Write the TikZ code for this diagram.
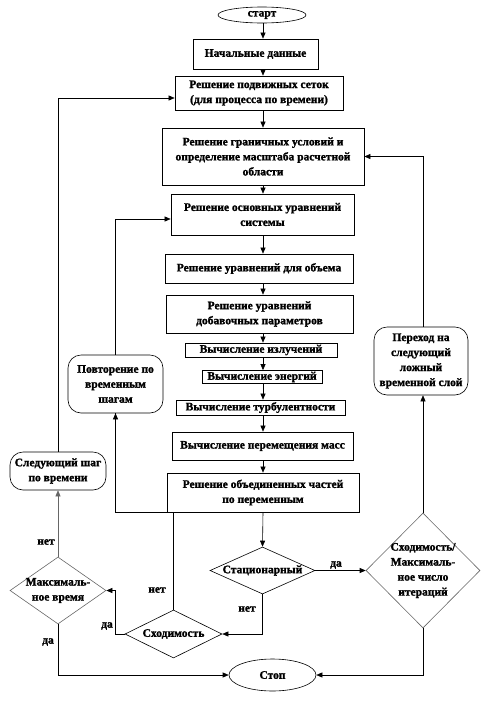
\documentclass[tikz,border=0pt]{standalone}
\usepackage{fontspec}
\setmainfont{Liberation Serif}[BoldFont={Liberation Serif Bold}, BoldFeatures={FakeBold=1.5}]
\usetikzlibrary{shapes.geometric,arrows.meta,calc}
\newcommand\myfnt{\fontsize{11.5}{15}\selectfont\bfseries}
\tikzset{
  sz/.style 2 args={minimum width=#1, minimum height=#2},
  box/.style={draw, line width=0.7pt, rectangle, inner sep=0pt, align=center, font=\myfnt},
  rbox/.style={draw, line width=0.6pt, rectangle, rounded corners=13pt, inner sep=0pt, align=center, font=\myfnt},
  oval/.style={draw, line width=0.6pt, ellipse, inner sep=0pt, font=\myfnt},
  dia/.style={draw, line width=0.6pt, diamond, inner sep=0pt},
  dtxt/.style={font=\myfnt, align=center, inner sep=0pt},
  lab/.style={font=\myfnt, inner sep=0pt},
  arr/.style={line width=0.6pt, -{Triangle[length=6pt,width=5pt]}},
  ln/.style={line width=0.6pt},
}
\begin{document}
\begin{tikzpicture}[x=1pt,y=-1pt]
\useasboundingbox (0,0) rectangle (489,702);
\coordinate (sp) at (263,0);
% main column
\node[oval, sz={88}{16}] (start) at (262,15) {старт};
\node[box, sz={125}{30}] (n1) at (255.5,54) {Начальные данные};
\node[box, sz={168}{34}] (n2) at (259,93) {Решение подвижных сеток\\(для процесса по времени)};
\node[box, sz={202}{57}] (n3) at (263,156.5) {Решение граничных условий и\\определение масштаба расчетной\\области};
\node[box, sz={183}{41}] (n4) at (262.5,214.5) {Решение основных уравнений\\системы};
\node[box, sz={188}{29}] (n5) at (259,268.5) {Решение уравнений для объема};
\node[box, sz={187}{38}] (n6) at (259.5,314) {Решение уравнений\\добавочных параметров};
\node[box, sz={152}{14}] (n7) at (261,350) {Вычисление излучений};
\node[box, sz={120}{13}] (n8) at (262,377) {Вычисление энергий};
\node[box, sz={169}{15}] (n9) at (260.5,407.5) {Вычисление турбулентности};
\node[box, sz={181}{28}] (n10) at (262.5,446) {Вычисление перемещения масс};
\node[box, sz={192}{39}] (n11) at (263,492.5) {Решение объединенных частей\\по переменным};
% side boxes
\node[rbox, sz={95}{58}] (povt) at (115.5,384) {Повторение по\\временным\\шагам};
\node[rbox, sz={96}{38}] (sled) at (58,471) {Следующий шаг\\по времени};
\node[rbox, sz={94}{68}] (perehod) at (421,361) {Переход на\\следующий\\ложный\\временной слой};
% decisions
\node[dia, draw=black!60, sz={96}{67}] (maxt) at (58,590.5) {};
\node[dtxt] (maxtt) at (maxt.center) {Максималь-\\ное время};
\node[dia, sz={97}{48}] (shod) at (173.5,634) {};
\node[dtxt] (shodt) at (shod.center) {Сходимость};
\node[dia, sz={105}{47}] (stac) at (262.5,570.5) {};
\node[dtxt] (stact) at (stac.center) {Стационарный};
\node[dia, draw=black!60, sz={114}{115}] (shodmax) at (423,570.5) {};
\node[dtxt] (shodmaxt) at (shodmax.center) {Сходимость/\\Максималь-\\ное число\\итераций};
\node[oval, sz={87}{32}] (stop) at (272.5,675) {Стоп};
% main spine arrows
\draw[arr] (start.south -| sp) -- (n1.north -| sp);
\draw[arr] (n1.south -| sp) -- (n2.north -| sp);
\draw[arr] (n2.south -| sp) -- (n3.north -| sp);
\draw[arr] (n3.south -| sp) -- (n4.north -| sp);
\draw[arr] (n4.south -| sp) -- (n5.north -| sp);
\draw[arr] (n5.south -| sp) -- (n6.north -| sp);
\draw[arr] (n6.south -| sp) -- (n7.north -| sp);
\draw[arr] (n7.south -| sp) -- (n8.north -| sp);
\draw[arr] (n8.south -| sp) -- (n9.north -| sp);
\draw[arr] (n9.south -| sp) -- (n10.north -| sp);
\draw[arr] (n10.south -| sp) -- (n11.north -| sp);
\draw[arr] (n11.south -| sp) -- (stac.north);
% decisions
\draw[arr] (stac.east) -- (shodmax.west);
\draw[arr] (stac.south) |- (shod.east);
\draw[ln] (shod.north) -- (shod.north |- n11.south) -| (povt.south);
\draw[arr] (povt.south |- n11.south) -- (povt.south);
\draw[arr] (povt.north) |- ([yshift=-4.5pt]n4.west);
\draw[arr] (shod.west) -| ($(maxt.east)+(9,0)$) -- (maxt.east);
\draw[arr, draw=black!60] (maxt.north) -- (sled.south);
\draw[arr] (sled.north) |- ([yshift=-5pt]n2.west);
\draw[arr] (maxt.south) |- (stop.west);
\draw[arr] (shodmax.south) |- (stop.east);
\draw[arr] (shodmax.north) -- (shodmax.north |- perehod.south);
\draw[arr] (shodmax.north |- perehod.north) |- (n3.east);
% labels
\node[lab] (l1) at (336,565) {да};
\node[lab] (l2) at (247,609) {нет};
\node[lab] (l3) at (157,590) {нет};
\node[lab] (l4) at (107,626) {да};
\node[lab] (l5) at (46,542) {нет};
\node[lab] (l6) at (48,642) {да};
\end{tikzpicture}
\end{document}
